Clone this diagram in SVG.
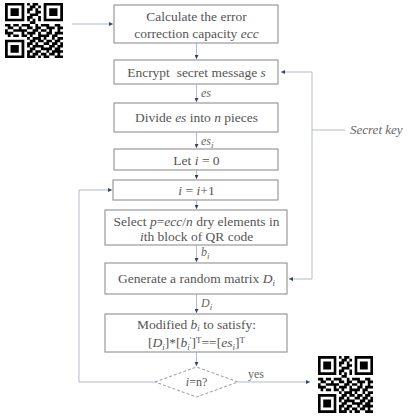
<svg xmlns="http://www.w3.org/2000/svg" width="416" height="416" viewBox="0 0 416 416">
<style>
.box{fill:#fff;stroke:#999;stroke-width:1.2}
.ln{fill:none;stroke:#b4b9c8;stroke-width:1}
text{font-family:'Liberation Serif','DejaVu Serif',serif}
.t{font-size:13.5px;fill:#555;text-anchor:middle}
.lb{font-size:12px;fill:#666;font-style:italic}
.i{font-style:italic}
.s{font-size:9px}
</style>
<defs>
<marker id="ah" viewBox="0 0 6 6" refX="6" refY="3" markerWidth="4" markerHeight="4" orient="auto" markerUnits="userSpaceOnUse">
<path d="M0 0L6 3L0 6z" fill="#34407a"/>
</marker>
<symbol id="qr" viewBox="0 0 21 21" preserveAspectRatio="none">
<path fill="#000" fill-rule="evenodd" d="M0 0h7v7h-7z M1 1v5h5v-5z M2 2h3v3h-3z M14 0h7v7h-7z M15 1v5h5v-5z M16 2h3v3h-3z M0 14h7v7h-7z M1 15v5h5v-5z M2 16h3v3h-3z"/>
<path fill="#000" d="M8 0h1v1h-1z M10 0h2v1h-2z M9 1h2v1h-2z M12 1h1v1h-1z M8 2h2v1h-2z M11 2h1v1h-1z M8 3h1v1h-1z M11 3h2v1h-2z M9 4h3v1h-3z M8 5h2v1h-2z M12 5h1v1h-1z M8 6h1v1h-1z M10 6h1v1h-1z M12 6h1v1h-1z M9 7h2v1h-2z
M0 8h2v1h-2z M3 8h2v1h-2z M6 8h3v1h-3z M11 8h1v1h-1z M13 8h3v1h-3z M18 8h2v1h-2z
M1 9h2v1h-2z M5 9h1v1h-1z M8 9h2v1h-2z M11 9h2v1h-2z M15 9h3v1h-3z M19 9h2v1h-2z
M0 10h1v1h-1z M3 10h5v1h-5z M10 10h2v1h-2z M13 10h2v1h-2z M16 10h1v1h-1z M19 10h1v1h-1z
M0 11h3v1h-3z M6 11h1v1h-1z M8 11h3v1h-3z M12 11h1v1h-1z M15 11h2v1h-2z M18 11h3v1h-3z
M1 12h1v1h-1z M3 12h2v1h-2z M6 12h2v1h-2z M9 12h1v1h-1z M12 12h4v1h-4z M17 12h2v1h-2z
M8 13h1v1h-1z M10 13h3v1h-3z M14 13h1v1h-1z M17 13h1v1h-1z M19 13h2v1h-2z
M9 14h2v1h-2z M12 14h2v1h-2z M15 14h2v1h-2z M18 14h2v1h-2z
M8 15h2v1h-2z M11 15h1v1h-1z M14 15h2v1h-2z M17 15h2v1h-2z M20 15h1v1h-1z
M8 16h1v1h-1z M10 16h4v1h-4z M16 16h2v1h-2z M19 16h2v1h-2z
M9 17h2v1h-2z M13 17h4v1h-4z M18 17h2v1h-2z
M8 18h2v1h-2z M11 18h2v1h-2z M15 18h1v1h-1z M17 18h4v1h-4z
M8 19h1v1h-1z M10 19h2v1h-2z M13 19h2v1h-2z M16 19h2v1h-2z M19 19h1v1h-1z
M8 20h3v1h-3z M12 20h1v1h-1z M14 20h2v1h-2z M18 20h3v1h-3z"/>
</symbol>
</defs>
<rect width="416" height="416" fill="#fff"/>

<g id="qr-input"><use href="#qr" x="5" y="3" width="58" height="55"/></g>
<g id="qr-output"><use href="#qr" x="318" y="356" width="55" height="57"/></g>

<g id="connectors">
<path class="ln" d="M72 24H113" marker-end="url(#ah)"/>
<path class="ln" d="M196.5 43V59" marker-end="url(#ah)"/>
<path class="ln" d="M196.5 84V102" marker-end="url(#ah)"/>
<path class="ln" d="M196.5 132V148" marker-end="url(#ah)"/>
<path class="ln" d="M196.5 170V179" marker-end="url(#ah)"/>
<path class="ln" d="M196.5 200V209" marker-end="url(#ah)"/>
<path class="ln" d="M196.5 245V262" marker-end="url(#ah)"/>
<path class="ln" d="M196.5 294V313" marker-end="url(#ah)"/>
<path class="ln" d="M196.5 352V366" marker-end="url(#ah)"/>
<path class="ln" d="M155 382H79V190H112" marker-end="url(#ah)"/>
<path class="ln" d="M238 382H310" marker-end="url(#ah)"/>
<path class="ln" d="M312 72H281" marker-end="url(#ah)"/>
<path class="ln" d="M312 72V279H289" marker-end="url(#ah)"/>
<path class="ln" d="M312 130H345"/>
<text class="lb" x="201" y="97">es</text>
<text class="lb" x="201" y="145">es<tspan class="s" dy="3">i</tspan></text>
<text class="lb" x="201" y="256">b<tspan class="s" dy="3">i</tspan></text>
<text class="lb" x="201" y="307">D<tspan class="s" dy="3">i</tspan></text>
<text class="lb" x="248" y="378" style="font-style:normal">yes</text>
<text class="lb" x="350" y="134" style="font-size:13px">Secret key</text>
</g>

<g id="n1"><rect class="box" x="114" y="5" width="164" height="38"/>
<text class="t" x="196.5" y="21">Calculate the error</text>
<text class="t" x="196.5" y="38">correction capacity <tspan class="i">ecc</tspan></text></g>

<g id="n2"><rect class="box" x="114" y="60" width="164" height="24"/>
<text class="t" x="196.5" y="76.5" xml:space="preserve">Encrypt  secret message <tspan class="i">s</tspan></text></g>

<g id="n3"><rect class="box" x="114" y="103" width="164" height="29"/>
<text class="t" x="196.5" y="122">Divide <tspan class="i">es</tspan> into <tspan class="i">n</tspan> pieces</text></g>

<g id="n4"><rect class="box" x="114" y="149" width="164" height="21"/>
<text class="t" x="196.5" y="165">Let <tspan class="i">i</tspan> = 0</text></g>

<g id="n5"><rect class="box" x="113" y="180" width="165" height="20"/>
<text class="t" x="196.5" y="195"><tspan class="i">i</tspan> = <tspan class="i">i</tspan>+1</text></g>

<g id="n6"><rect class="box" x="105" y="210" width="182" height="35"/>
<text class="t" x="196.5" y="225.5">Select <tspan class="i">p</tspan>=<tspan class="i">ecc</tspan>/<tspan class="i">n</tspan> dry elements in</text>
<text class="t" x="196.5" y="241"><tspan class="i">i</tspan>th block of QR code</text></g>

<g id="n7"><rect class="box" x="105" y="263" width="182" height="31"/>
<text class="t" x="196.5" y="283">Generate a random matrix <tspan class="i">D</tspan><tspan class="s i" dy="3">i</tspan></text></g>

<g id="n8"><rect class="box" x="105" y="314" width="182" height="38"/>
<text class="t" x="196.5" y="328.5">Modified <tspan class="i">b</tspan><tspan class="s i" dy="2.5">i</tspan><tspan dy="-2.5"> to satisfy:</tspan></text>
<text class="t" x="196.5" y="347">[<tspan class="i">D</tspan><tspan class="s i" dy="2.5">i</tspan><tspan dy="-2.5">]*[</tspan><tspan class="i">b</tspan><tspan class="s i" dy="2.5">i</tspan><tspan class="s" dy="-6.5">'</tspan><tspan dy="4">]</tspan><tspan class="s" dy="-4">T</tspan><tspan dy="4">==[</tspan><tspan class="i">es</tspan><tspan class="s i" dy="2.5">i</tspan><tspan dy="-2.5">]</tspan><tspan class="s" dy="-4">T</tspan></text></g>

<g id="n9"><path d="M155 382L196.5 367L238 382L196.5 397Z" fill="#fff" stroke="#999" stroke-width="1" stroke-dasharray="3 2"/>
<text class="t" x="196.5" y="386" style="font-size:12px"><tspan class="i">i</tspan>=n?</text></g>
</svg>
